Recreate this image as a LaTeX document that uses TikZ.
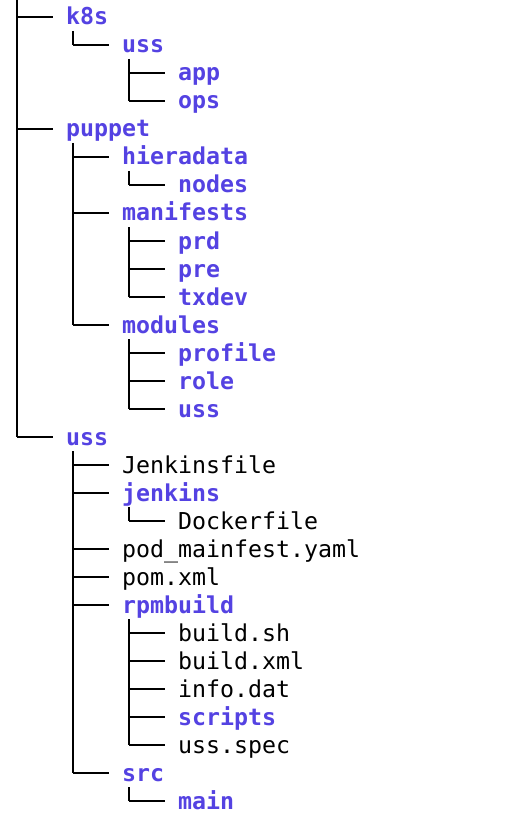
\documentclass[tikz,border=0pt]{standalone}
\usepackage{fontspec}
\setmonofont{DejaVu Sans Mono}
\definecolor{dircol}{RGB}{84,66,226}
\tikzset{
  branch/.style={line width=1.9pt, black},
  dirname/.style={font=\ttfamily\bfseries\fontsize{23.26}{28}\selectfont, text=dircol, inner sep=0pt},
  filename/.style={font=\ttfamily\fontsize{23.26}{28}\selectfont, text=black, inner sep=0pt}
}
% \entry{name}{level}{row}{style}{text}
\newcommand\entry[5]{%
  \coordinate (#1-k) at ({17+56*#2},{17+28*#3});
  \coordinate (#1-s) at ({73+56*#2},{31+28*#3});
  \node[#4, anchor=base west] (#1) at ({66+56*#2},{25+28*#3}) {#5};
  \draw[branch] (#1-k) -- ++(36,0);
}
\begin{document}
\begin{tikzpicture}[x=1pt,y=-1pt]
\useasboundingbox (0,0) rectangle (524,834);
\coordinate (root-s) at (17,0);
\entry{k8s}{0}{0}{dirname}{k8s}
\entry{k8suss}{1}{1}{dirname}{uss}
\entry{app}{2}{2}{dirname}{app}
\entry{ops}{2}{3}{dirname}{ops}
\entry{puppet}{0}{4}{dirname}{puppet}
\entry{hieradata}{1}{5}{dirname}{hieradata}
\entry{nodes}{2}{6}{dirname}{nodes}
\entry{manifests}{1}{7}{dirname}{manifests}
\entry{prd}{2}{8}{dirname}{prd}
\entry{pre}{2}{9}{dirname}{pre}
\entry{txdev}{2}{10}{dirname}{txdev}
\entry{modules}{1}{11}{dirname}{modules}
\entry{profile}{2}{12}{dirname}{profile}
\entry{role}{2}{13}{dirname}{role}
\entry{moduss}{2}{14}{dirname}{uss}
\entry{uss}{0}{15}{dirname}{uss}
\entry{jfile}{1}{16}{filename}{Jenkinsfile}
\entry{jenkins}{1}{17}{dirname}{jenkins}
\entry{docker}{2}{18}{filename}{Dockerfile}
\entry{pod}{1}{19}{filename}{pod\_mainfest.yaml}
\entry{pom}{1}{20}{filename}{pom.xml}
\entry{rpmbuild}{1}{21}{dirname}{rpmbuild}
\entry{buildsh}{2}{22}{filename}{build.sh}
\entry{buildxml}{2}{23}{filename}{build.xml}
\entry{info}{2}{24}{filename}{info.dat}
\entry{scripts}{2}{25}{dirname}{scripts}
\entry{spec}{2}{26}{filename}{uss.spec}
\entry{src}{1}{27}{dirname}{src}
\entry{main}{2}{28}{dirname}{main}
% vertical stems: from each parent down to its last child
\draw[branch] (root-s) -- (uss-k);
\draw[branch] (k8s-s) -- (k8suss-k);
\draw[branch] (k8suss-s) -- (ops-k);
\draw[branch] (puppet-s) -- (modules-k);
\draw[branch] (hieradata-s) -- (nodes-k);
\draw[branch] (manifests-s) -- (txdev-k);
\draw[branch] (modules-s) -- (moduss-k);
\draw[branch] (uss-s) -- (src-k);
\draw[branch] (jenkins-s) -- (docker-k);
\draw[branch] (rpmbuild-s) -- (spec-k);
\draw[branch] (src-s) -- (main-k);
\end{tikzpicture}
\end{document}
